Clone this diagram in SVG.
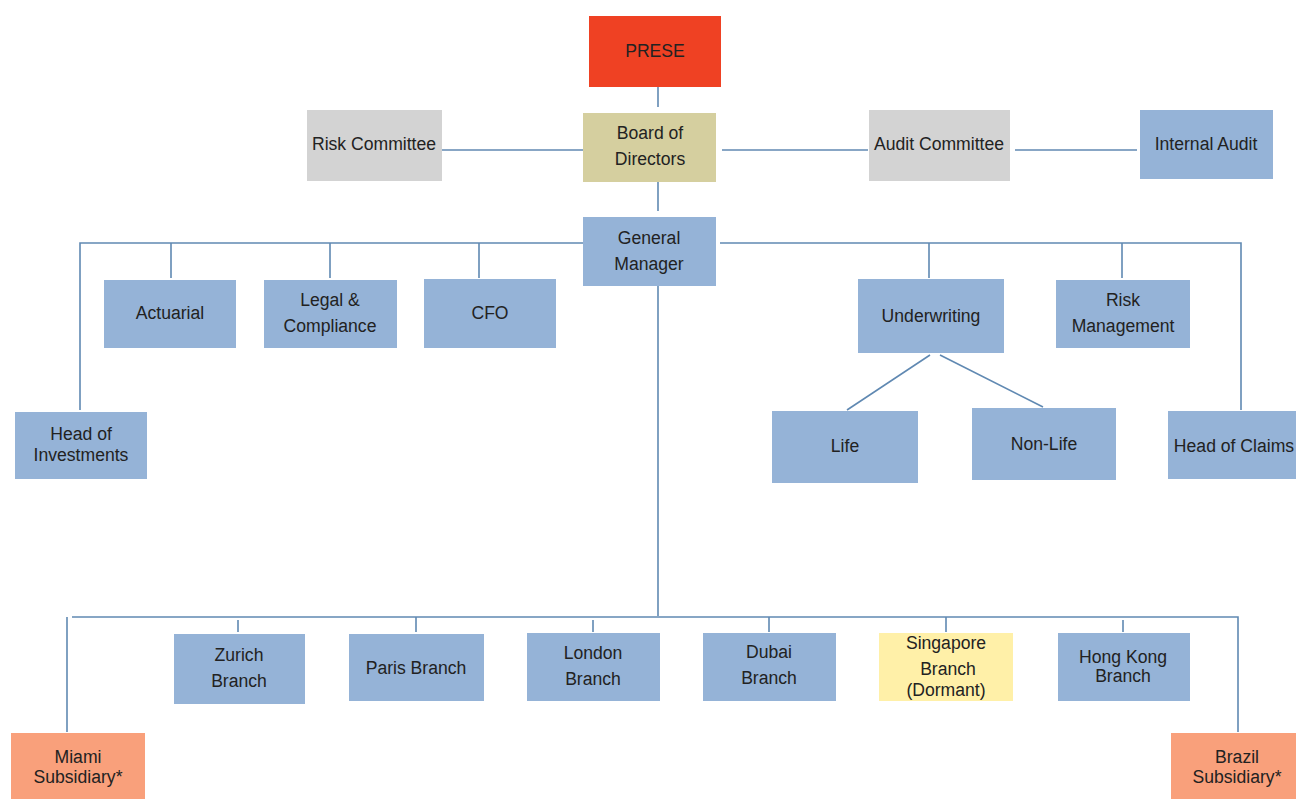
<svg xmlns="http://www.w3.org/2000/svg" width="1296" height="799" viewBox="0 0 1296 799">
<style>
.n{stroke:none}
.blue{fill:#95B3D7}
.gray{fill:#D3D3D3}
.khaki{fill:#D5CF9F}
.red{fill:#EF4123}
.salmon{fill:#F9A07B}
.yellow{fill:#FFF0A8}
text{font-family:"Liberation Sans",Arial,sans-serif;font-size:17.6px;fill:#222;text-anchor:middle}
.c{stroke:#6089B2;stroke-width:1.6;fill:none}
</style>
<rect width="1296" height="799" fill="#fff"/>
<g id="connectors" class="c">
<path d="M658 87V107"/>
<path d="M442 150H585"/>
<path d="M722 150H868"/>
<path d="M1015 150H1137"/>
<path d="M658 182V211"/>
<path d="M583 243H80V410"/>
<path d="M171 243V278M330 243V278M479 243V278"/>
<path d="M720 243H1241V410"/>
<path d="M929 243V278M1122 243V278"/>
<path d="M930 355L847 410M940 355L1043 407"/>
<path d="M658 286V616"/>
<path d="M72 617H1238V732"/>
<path d="M67 617V732"/>
<path d="M238 620V632M416 617V632M593 620V632M769 617V632M946 617V632M1123 620V632"/>
</g>
<g id="prese"><rect class="red" x="589" y="16" width="132" height="71"/><text x="655" y="57">PRESE</text></g>
<g id="board"><rect class="khaki" x="583" y="113" width="133" height="69"/><text x="650" y="139">Board of</text><text x="650" y="165">Directors</text></g>
<g id="risk-committee"><rect class="gray" x="307" y="110" width="135" height="71"/><text x="374" y="150">Risk Committee</text></g>
<g id="audit-committee"><rect class="gray" x="869" y="110" width="141" height="71"/><text x="939" y="150">Audit Committee</text></g>
<g id="internal-audit"><rect class="blue" x="1140" y="110" width="133" height="69"/><text x="1206" y="150">Internal Audit</text></g>
<g id="general-manager"><rect class="blue" x="583" y="217" width="133" height="69"/><text x="649" y="244">General</text><text x="649" y="270">Manager</text></g>
<g id="actuarial"><rect class="blue" x="104" y="280" width="132" height="68"/><text x="170" y="319">Actuarial</text></g>
<g id="legal"><rect class="blue" x="264" y="280" width="133" height="68"/><text x="330" y="306">Legal &amp;</text><text x="330" y="332">Compliance</text></g>
<g id="cfo"><rect class="blue" x="424" y="279" width="132" height="69"/><text x="490" y="319">CFO</text></g>
<g id="underwriting"><rect class="blue" x="858" y="279" width="146" height="74"/><text x="931" y="322">Underwriting</text></g>
<g id="risk-management"><rect class="blue" x="1056" y="280" width="134" height="68"/><text x="1123" y="306">Risk</text><text x="1123" y="332">Management</text></g>
<g id="head-investments"><rect class="blue" x="15" y="412" width="132" height="67"/><text x="81" y="440">Head of</text><text x="81" y="461">Investments</text></g>
<g id="life"><rect class="blue" x="772" y="411" width="146" height="72"/><text x="845" y="452">Life</text></g>
<g id="non-life"><rect class="blue" x="972" y="408" width="144" height="72"/><text x="1044" y="450">Non-Life</text></g>
<g id="head-claims"><rect class="blue" x="1168" y="411" width="140" height="68"/><text x="1234" y="452">Head of Claims</text></g>
<g id="miami"><rect class="salmon" x="11" y="733" width="134" height="70"/><text x="78" y="763">Miami</text><text x="78" y="783">Subsidiary*</text></g>
<g id="zurich"><rect class="blue" x="174" y="634" width="131" height="70"/><text x="239" y="661">Zurich</text><text x="239" y="687">Branch</text></g>
<g id="paris"><rect class="blue" x="349" y="634" width="135" height="67"/><text x="416" y="674">Paris Branch</text></g>
<g id="london"><rect class="blue" x="527" y="633" width="133" height="68"/><text x="593" y="659">London</text><text x="593" y="685">Branch</text></g>
<g id="dubai"><rect class="blue" x="703" y="633" width="133" height="68"/><text x="769" y="658">Dubai</text><text x="769" y="684">Branch</text></g>
<g id="singapore"><rect class="yellow" x="879" y="633" width="134" height="68"/><text x="946" y="649">Singapore</text><text x="948" y="675">Branch</text><text x="946" y="696">(Dormant)</text></g>
<g id="hong-kong"><rect class="blue" x="1058" y="633" width="132" height="68"/><text x="1123" y="663">Hong Kong</text><text x="1123" y="682">Branch</text></g>
<g id="brazil"><rect class="salmon" x="1171" y="733" width="130" height="70"/><text x="1237" y="763">Brazil</text><text x="1237" y="783">Subsidiary*</text></g>
</svg>
